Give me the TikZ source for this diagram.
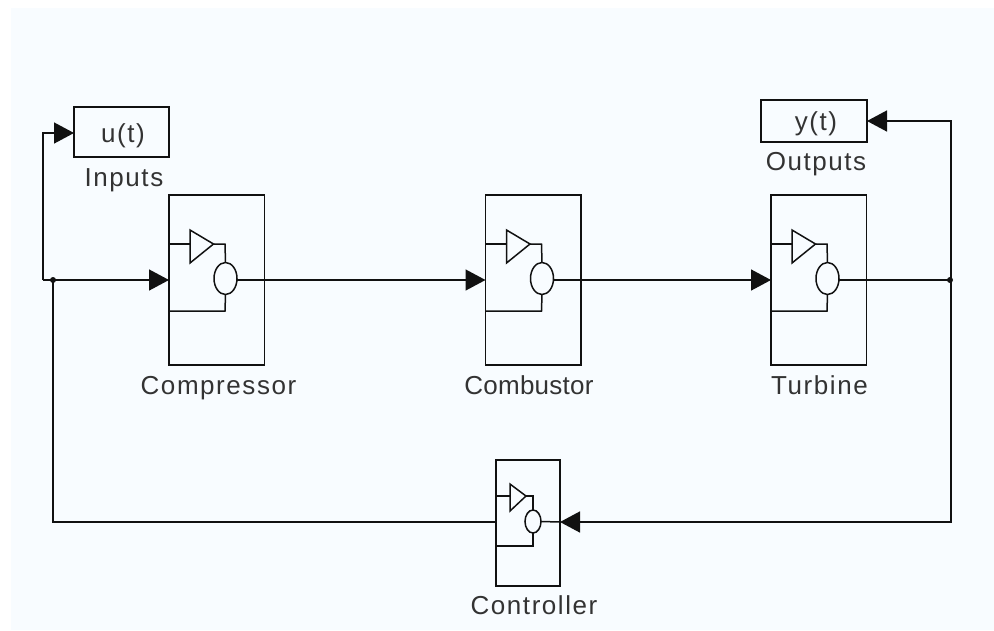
\documentclass[tikz,border=0pt]{standalone}
\usepackage{fontspec}
\setmainfont[LetterSpace=6]{Liberation Sans}
\usetikzlibrary{arrows.meta,shapes.geometric}
\definecolor{bg}{HTML}{F8FCFF}
\definecolor{ink}{HTML}{111111}
\definecolor{txt}{HTML}{333333}
\tikzset{
  x=1pt,y=-1pt,
  line/.style={draw=ink,line width=1.5pt},
  flow/.style={line,-{Triangle[length=20pt,width=21pt]}},
  frame/.style={draw=ink,line width=1.5pt,rectangle,inner sep=0pt,outer sep=0pt,anchor=north west},
  lab/.style={text=txt,font=\fontsize{26}{26}\selectfont,inner sep=0pt,anchor=base},
  junction/.style={circle,fill=ink,inner sep=0pt,minimum size=6pt},
  oval/.style={draw=ink,line width=1.5pt,ellipse,inner sep=0pt,outer sep=0pt},
}
% #1 name, #2 left edge
\newcommand{\bigblock}[2]{%
  \node[frame,minimum width=95.5pt,minimum height=170pt] (#1) at (#2,195) {};
  \coordinate (#1in) at (#2,280);
  \coordinate (#1a) at (#2,244);
  \coordinate (#1b) at (#2,311);
  \coordinate (#1t1) at (#2+21,230);
  \coordinate (#1t2) at (#2+21,263);
  \coordinate (#1tip) at (#2+44.5,244);
  \coordinate (#1j) at (#2+56,244);
  \coordinate (#1f) at (#2+56,311);
  \node[oval,minimum width=23pt,minimum height=32pt] (#1e) at (#2+56.5,278.5) {};
  \coordinate (#1out) at (#2+68,280);
  \draw[line] (#1a) -- (#1t1 |- #1a);
  \draw[line] (#1t1) -- (#1t2) -- (#1tip) -- cycle;
  \draw[line] (#1tip) -- (#1j) -- (#1e.north);
  \draw[line] (#1b) -- (#1f) -- (#1e.south);
}
\begin{document}
\begin{tikzpicture}
\useasboundingbox[fill=white] (0,0) rectangle (994,630);
\fill[bg] (11,8) rectangle (994,630);

% input / output boxes
\node[frame,minimum width=95pt,minimum height=50pt] (ubox) at (74,107) {};
\node[lab] (utext) at (123,142) {u(t)};
\node[lab] (inputs) at (124,186) {Inputs};
\node[frame,minimum width=106pt,minimum height=42pt] (ybox) at (761,100) {};
\node[lab] (ytext) at (816,130) {y(t)};
\node[lab] (outputs) at (816,170) {Outputs};

% main blocks
\bigblock{comp}{169}
\bigblock{comb}{485.5}
\bigblock{turb}{771}
\node[lab] (complab) at (218.5,394) {Compressor};
\node[lab] (comblab) at (529,394) {\addfontfeature{LetterSpace=1}Combustor};
\node[lab] (turblab) at (819.5,394) {Turbine};

% controller
\node[frame,minimum width=64pt,minimum height=126pt] (ctrl) at (496,460) {};
\node[oval,minimum width=16pt,minimum height=23pt] (ctrle) at (533,521.5) {};
\coordinate (ctrla) at (496,496);
\coordinate (ctrlt1) at (510,484);
\coordinate (ctrlt2) at (510,511);
\coordinate (ctrltip) at (526,496);
\coordinate (ctrlj) at (533,496);
\coordinate (ctrlb) at (496,546);
\coordinate (ctrlf) at (533,546);
\coordinate (ctrlr) at (560,522);
\coordinate (ctrll) at (496,522);
\draw[line] (ctrla) -- (ctrlt1 |- ctrla);
\draw[line] (ctrlt1) -- (ctrlt2) -- (ctrltip) -- cycle;
\draw[line] (ctrltip) -- (ctrlj) -- (ctrle.north);
\draw[line] (ctrlb) -- (ctrlf) -- (ctrle.south);
\draw[line] (ctrle.east) -- (ctrlr);
\node[lab] (ctrllab) at (534,614) {Controller};

% junctions and routing points
\node[junction] (jl) at (53,280) {};
\node[junction] (jr) at (950,280) {};
\coordinate (cl) at (43,280);
\coordinate (cu) at (43,133);
\coordinate (uin) at (74,133);
\coordinate (yin) at (867,121);
\coordinate (yc) at (951,121);
\coordinate (rc) at (951,522);
\coordinate (lc) at (53,522);
\coordinate (yb) at (951,280);

% connectors
\draw[flow] (cl) -- (compin);
\draw[flow] (cl) -- (cu) -- (uin);
\draw[flow] (compout) -- (combin);
\draw[flow] (combout) -- (turbin);
\draw[line] (turbout) -- (yb);
\draw[flow] (yb) -- (yc) -- (yin);
\draw[flow] (yb) -- (rc) -- (ctrlr);
\draw[line] (ctrll) -- (lc) -- (jl.center);
\end{tikzpicture}
\end{document}
